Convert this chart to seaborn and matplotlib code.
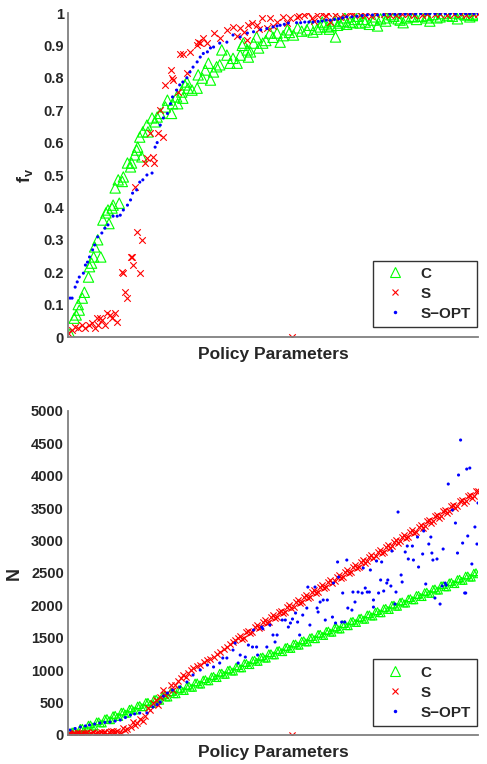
import numpy as np
import matplotlib
matplotlib.use("Agg")
import matplotlib.pyplot as plt
from matplotlib.lines import Line2D
import seaborn as sns

# ---- top panel: f_v -------------------------------------------------------
top_c_x = [2, 6, 8, 10, 11, 14, 16, 20, 21, 23, 25, 26, 29, 32, 34, 37, 39, 40, 43, 44,
           46, 49, 50, 53, 54, 58, 61, 62, 65, 67, 68, 70, 72, 73, 77, 78, 82, 85, 87, 90,
           95, 97, 101, 102, 106, 107, 111, 112, 114, 116, 117, 121, 126, 127, 131, 134, 137, 139, 142, 145,
           148, 150, 155, 158, 161, 165, 168, 171, 175, 176, 181, 184, 190, 197, 204, 207, 214, 220, 224, 233,
           239, 246, 253, 261, 265, 275, 285, 298, 311, 324, 337, 350, 363, 376, 389, 399,
           170, 178, 186, 193, 200, 210, 216, 228, 236, 243, 250, 257, 268, 272, 280, 290,
           305, 318, 330, 345, 356, 370, 382, 395,
           260, 263, 270, 278, 283, 288, 294, 300, 310, 315, 322, 327, 335, 340, 350, 353,
           360, 366, 375, 380, 387, 392, 398, 302, 255, 248]
top_c_y = [.01, .058, .068, .10, .083, .12, .138, .185, .217, .228, .247, .278, .30, .247, .361, .383, .392, .35, .398, .407,
           .46, .485, .413, .48, .494, .537, .525, .537, .562, .577, .586, .617, .556, .633, .654, .633, .676, .664, .679, .69,
           .71, .731, .69, .72, .741, .72, .756, .737, .778, .787, .768, .762, .768, .809, .799, .824, .845, .793, .818, .834,
           .84, .886, .87, .845, .86, .845, .87, .907, .886, .864, .907, .926, .907, .938, .938, .91, .948, .932, .954, .948,
           .941, .957, .957, .926, .969, .972, .969, .978, .985, .978, .988, .985, .988, 1.0, .994, .997,
           .90, .88, .892, .915, .925, .93, .94, .944, .962, .95, .966, .96, .975, .965, .98, .972,
           .982, .99, .985, .99, .995, .992, .998, .994,
           .975, .962, .985, .97, .99, .98, .965, .988, .975, .995, .982, .97, .99, .98, .992, .975,
           .985, .998, .99, .982, .995, .988, .992, .96, .95, .972]

top_s_x = [0, 4, 7, 10, 14, 17, 20, 23, 26, 29, 28, 31, 33, 36, 38, 41, 43, 46, 48, 53,
           54, 56, 58, 61, 62, 63, 67, 70, 72, 65, 75, 77, 83, 84, 80, 88, 90, 93, 95, 100,
           101, 102, 107, 109, 112, 116, 119, 126, 127, 129, 132, 136, 142, 148, 155, 161, 168, 175, 176, 180,
           184, 189, 197, 204, 210, 217, 223, 234, 243, 254, 256, 265, 275, 285, 296, 308, 320, 332, 345, 358,
           370, 383, 395, 400, 218.6,
           225, 230, 238, 248, 252, 260, 270, 278, 290, 300, 314, 326, 338, 350, 363, 377,
           388, 240, 214, 200, 194, 186, 172, 165]
top_s_y = [.012, .022, .031, .028, .037, .028, .037, .043, .028, .037, .058, .058, .052, .037, .074, .068, .058, .074, .046, .20,
           .197, .139, .12, .247, .247, .222, .324, .197, .299, .463, .537, .552, .556, .537, .63, .63, .70, .617, .778, .824,
           .80, .793, .756, .875, .875, .815, .88, .90, .91, .907, .923, .907, .938, .923, .948, .957, .954, .917, .963, .969,
           .963, .985, .985, .972, .988, .985, .988, 1.0, .994, 1.0, .972, .988, 1.0, .995, .99, .997, .993, .998, .995, .997,
           .994, .998, .996, .997, 0.0,
           .99, .995, .985, .998, .99, .995, .99, .998, .995, .998, .995, .997, .993, .998, .996, .998,
           .995, .975, .97, .96, .955, .95, .94, .93]

top_o_x = [2, 4, 7, 9, 11, 15, 17, 19, 21, 24, 26, 29, 33, 36, 39, 44, 48, 51, 54, 58,
           61, 63, 67, 70, 73, 77, 82, 85, 87, 90, 93, 97, 100, 102, 106, 109, 112, 116, 119, 122,
           126, 129, 132, 136, 139, 142, 148, 155, 161, 168, 175, 181, 188, 194, 200, 207, 215, 223, 231, 239,
           248, 256, 264, 272, 282, 292, 302, 314, 324, 334, 344, 353, 363, 373, 383, 392, 400,
           204, 211, 227, 235, 244, 252, 260, 268, 277, 287, 297, 308, 319, 329, 339, 349,
           358, 368, 378, 388, 396]
top_o_y = [.12, .12, .154, .17, .185, .197, .222, .231, .247, .269, .284, .309, .321, .336, .346, .373, .373, .376, .392, .407,
           .423, .444, .454, .478, .485, .50, .506, .586, .60, .654, .676, .69, .72, .741, .762, .778, .787, .80, .818, .833,
           .849, .864, .875, .88, .892, .895, .907, .91, .932, .926, .938, .942, .948, .952, .957, .962, .969, .970, .972, .972,
           .975, .978, .982, .988, .99, .994, .994, .997, .997, .997, .998, .998, .998, .998, .998, .998, .998,
           .96, .965, .97, .972, .974, .978, .98, .985, .988, .992, .994, .995, .996, .997, .997, .998,
           .998, .998, .998, .998, .998]

# ---- bottom panel: N ------------------------------------------------------
bot_c_x = list(range(0, 401, 4)) + list(range(2, 400, 4))
bot_c_y = [0, 55, 30, 110, 80, 160, 130, 210, 180, 255, 230, 305, 280, 360, 330, 405, 380, 455, 430, 510,
           480, 555, 530, 605, 580, 660, 630, 705, 680, 755, 730, 810, 780, 855, 830, 905, 880, 960, 930, 1005,
           980, 1055, 1030, 1110, 1080, 1155, 1130, 1205, 1180, 1260, 1230, 1305, 1280, 1355, 1330, 1410, 1380, 1455, 1430, 1505,
           1480, 1560, 1530, 1605, 1580, 1655, 1630, 1710, 1680, 1755, 1730, 1805, 1780, 1860, 1830, 1905, 1880, 1955, 1930, 2010,
           1980, 2055, 2030, 2105, 2080, 2160, 2130, 2205, 2180, 2255, 2230, 2310, 2280, 2355, 2330, 2405, 2380, 2460, 2430, 2505,
           2480,
           0, 62, 28, 112, 78, 162, 128, 212, 178, 262, 228, 312, 278, 362, 328, 412, 378, 462, 428, 512,
           478, 562, 528, 612, 578, 662, 628, 712, 678, 762, 728, 812, 778, 862, 828, 912, 878, 962, 928, 1012,
           978, 1062, 1028, 1112, 1078, 1162, 1128, 1212, 1178, 1262, 1228, 1312, 1278, 1362, 1328, 1412, 1378, 1462, 1428, 1512,
           1478, 1562, 1528, 1612, 1578, 1662, 1628, 1712, 1678, 1762, 1728, 1812, 1778, 1862, 1828, 1912, 1878, 1962, 1928, 2012,
           1978, 2062, 2028, 2112, 2078, 2162, 2128, 2212, 2178, 2262, 2228, 2312, 2278, 2362, 2328, 2412, 2378, 2462, 2428, 2512]

bot_s_x = [0, 2, 4, 6, 8, 10, 12, 14, 16, 18, 20, 22, 24, 26, 28, 30, 32, 34, 36, 38,
           40, 42, 44, 46, 48, 50, 54, 58, 61, 63, 67, 70, 73, 78, 80, 83, 86, 90, 93, 97,
           100, 104, 107, 112, 117, 122, 129, 136, 142, 148, 155, 161, 166,
           168, 172, 176, 180, 184, 188, 192, 196, 200, 204, 208, 212, 216, 220, 224, 228, 232, 236, 240, 244,
           248, 252, 256, 260, 264, 268, 272, 276, 280, 284, 288, 292, 296, 300, 304, 308, 312, 316, 320, 324,
           328, 332, 336, 340, 344, 348, 352, 356, 360, 364, 368, 372, 376, 380, 384, 388, 392, 396, 400, 218.6,
           1, 5, 9, 13, 19, 27, 35, 44, 52, 56, 65, 75, 88, 95, 102, 110, 115, 120, 126, 133, 139, 145, 152, 158, 163] \
    + list(range(170, 399, 4))
bot_s_y = [10, 20, 5, 25, 15, 30, 20, 10, 35, 25, 15, 30, 40, 20, 35, 25, 45, 30, 50, 20,
           40, 55, 30, 45, 60, 35, 108, 90, 123, 200, 185, 250, 220, 417, 380, 494, 540, 586, 694, 650,
           772, 772, 830, 926, 960, 1034, 1080, 1157, 1203, 1280, 1358, 1435, 1497,
           1530, 1500, 1610, 1590, 1690, 1660, 1770, 1740, 1850, 1820, 1920, 1900, 2000, 1980, 2080, 2050, 2160, 2130, 2240, 2210,
           2310, 2290, 2390, 2370, 2470, 2440, 2550, 2520, 2620, 2600, 2700, 2680, 2780, 2760, 2860, 2830, 2930, 2910, 3010, 2990,
           3090, 3060, 3160, 3140, 3240, 3220, 3320, 3300, 3400, 3380, 3470, 3450, 3550, 3530, 3630, 3610, 3700, 3690, 3760, 0,
           30, 10, 40, 20, 50, 15, 40, 60, 25, 70, 160, 300, 460, 620, 700, 880, 900, 1000, 1060, 1120, 1180, 1250, 1320, 1400, 1460,
           1489, 1588, 1567, 1665, 1644, 1743, 1722, 1821, 1799, 1898, 1877, 1976, 1955, 2053, 2032, 2131, 2110, 2209, 2187, 2286,
           2265, 2364, 2343, 2441, 2420, 2519, 2498, 2597, 2575, 2674, 2653, 2752, 2731, 2829, 2808, 2907, 2886, 2985, 2963, 3062,
           3041, 3140, 3119, 3217, 3196, 3295, 3274, 3373, 3351, 3450, 3429, 3528, 3507, 3605, 3584, 3683, 3662, 3761]

bot_o_x = [2, 7, 12, 17, 21, 26, 31, 36, 41, 46, 51, 56, 61, 65, 70, 77, 83, 87, 90, 93,
           97, 102, 109, 116, 122, 129, 136, 142, 148, 155, 161, 166, 151, 163, 168, 173, 176, 180, 181, 184,
           185, 189, 190, 194, 197, 200, 202, 204, 209, 212, 215, 217, 219, 222, 224, 226, 229, 233, 234, 236,
           241, 243, 244, 246, 249, 253, 251, 258, 261, 259, 263, 264, 267, 268, 270, 272, 273, 277, 278, 280,
           283, 287, 288, 290, 292, 294, 295, 298, 298, 301, 303, 305, 306, 308, 311, 312, 315, 316, 319, 320,
           322, 325, 326, 329, 331, 332, 336, 337, 341, 342, 346, 347, 349, 352, 354, 355, 356, 358, 360, 363,
           365, 366, 368, 369, 371, 375, 378, 380, 381, 383, 385, 387, 388, 389, 390, 392, 394, 397, 399, 400]
bot_o_y = [77, 100, 123, 140, 154, 170, 185, 195, 200, 215, 231, 270, 308, 325, 339, 340, 432, 470, 509, 600,
           648, 694, 740, 817, 926, 1003, 1080, 1050, 1111, 1188, 1311, 1111, 1188, 1419, 1234, 1203, 1388, 1358, 1620, 1358,
           1234, 1666, 1640, 1358, 1697, 1543, 1435, 1543, 1774, 1774, 1666, 1728, 1790, 1882, 1743, 1543, 1851, 1959, 2283, 1697,
           2283, 1959, 1898, 2052, 2083, 2083, 1774, 1820, 1728, 2345, 2670, 2437, 1743, 2191, 1743, 2700, 1959, 1928, 2206, 2052,
           2206, 2191, 2577, 2268, 2206, 2206, 2546, 2083, 1974, 2685, 2191, 2392, 2670, 2222, 2345, 2392, 2299, 2839, 2021, 2206,
           3441, 2469, 2361, 2824, 2916, 2716, 2916, 2700, 3055, 2592, 2793, 3148, 2330, 2947, 3055, 2808, 2700, 2114, 2716, 2021,
           2299, 2870, 2345, 2314, 3873, 3472, 3271, 2808, 4012, 4552, 2962, 2191, 2191, 4104, 3071, 4120, 2639, 3210, 2947, 3580]

labels = ["C", "S", "S\u2212OPT"]
green, red, blue = "#00ff00", "#ff0000", "#0000ff"

sns.set_style("white")
plt.rcParams["font.family"] = ["Liberation Sans", "DejaVu Sans"]
plt.rcParams["font.weight"] = "bold"
plt.rcParams["mathtext.fontset"] = "custom"
plt.rcParams["mathtext.bf"] = "Liberation Sans:bold"
plt.rcParams["mathtext.rm"] = "Liberation Sans:bold"

fig = plt.figure(figsize=(4.87, 7.64), dpi=100)
ax1 = fig.add_axes([68 / 487, 1 - 337 / 764, 410 / 487, 324 / 764])
ax2 = fig.add_axes([68 / 487, 1 - 735 / 764, 410 / 487, 324 / 764])


def draw(ax, cx, cy, sx, sy, ox, oy, tri, cross, dot):
    sns.scatterplot(x=cx, y=cy, ax=ax, marker="^", s=tri, facecolor="none",
                    edgecolor=green, linewidth=0.8, legend=False)
    sns.scatterplot(x=sx, y=sy, ax=ax, marker="x", s=cross, color=red,
                    linewidth=0.8, legend=False)
    sns.scatterplot(x=ox, y=oy, ax=ax, marker="o", s=dot, color=blue,
                    edgecolor="none", legend=False)


draw(ax1, top_c_x, top_c_y, top_s_x, top_s_y, top_o_x, top_o_y, 55, 22, 5)
draw(ax2, bot_c_x, bot_c_y, bot_s_x, bot_s_y, bot_o_x, bot_o_y, 24, 20, 5)

for ax, ylim, yticks, ylab in [
        (ax1, (0, 1), np.arange(0, 1.01, 0.1), r"$\mathbf{f}_\mathbf{v}$"),
        (ax2, (0, 5000), np.arange(0, 5001, 500), "N")]:
    ax.set_xlim(0, 400)
    ax.set_ylim(*ylim)
    ax.set_xticks([0, 100, 200, 300, 400])
    ax.set_xticklabels([])
    ax.set_yticks(yticks)
    ax.set_yticklabels([("%g" % v) for v in yticks], fontsize=10.5, fontweight="bold")
    ax.tick_params(direction="in", length=4, width=1, color="#808080", pad=3)
    for side in ["top", "right"]:
        ax.spines[side].set_visible(False)
    for side in ["left", "bottom"]:
        ax.spines[side].set_color("#808080")
        ax.spines[side].set_linewidth(1.3)
    ax.set_xlabel("Policy Parameters", fontsize=12.5, fontweight="bold", labelpad=4)
    ax.set_ylabel(ylab, fontsize=13, fontweight="bold", labelpad=6)

for ax, anchor, ms in [(ax1, (0.998, 0.031), (7, 5, 2.5)), (ax2, (0.998, 0.028), (7, 5, 2.5))]:
    handles = [
        Line2D([], [], ls="none", marker="^", ms=ms[0], mfc="none", mec=green, mew=0.8),
        Line2D([], [], ls="none", marker="x", ms=ms[1], color=red, mew=0.8),
        Line2D([], [], ls="none", marker="o", ms=ms[2], color=blue, mec="none"),
    ]
    leg = ax.legend(handles, labels, loc="lower right", bbox_to_anchor=anchor,
                    borderaxespad=0, frameon=True, fancybox=False, edgecolor="black",
                    prop={"weight": "bold", "size": 11}, handlelength=2.0,
                    handletextpad=0.7, labelspacing=0.4, borderpad=0.4)
    leg.get_frame().set_linewidth(1.0)
    leg.set_zorder(5)

fig.savefig("out.png", dpi=100)
